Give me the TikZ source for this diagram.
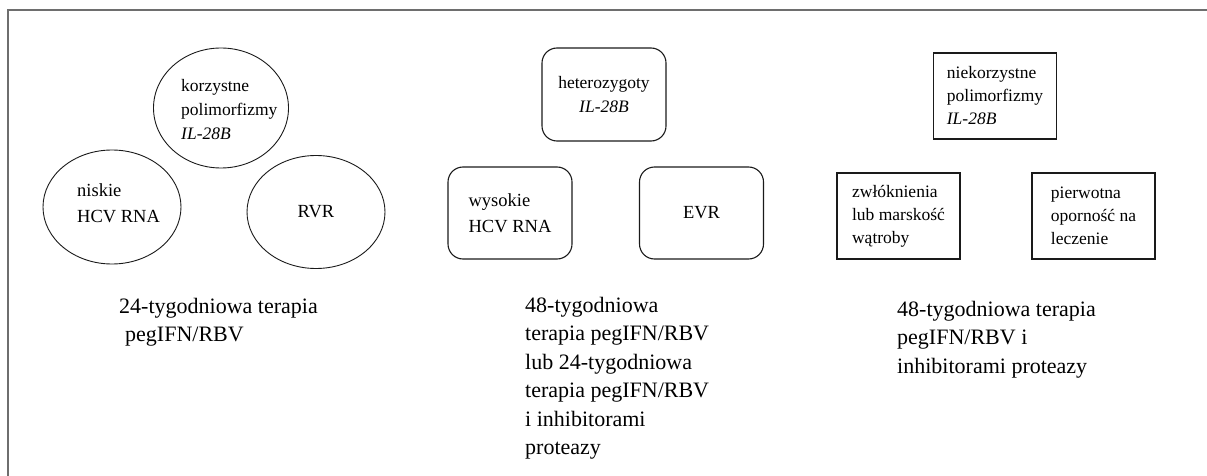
\documentclass[tikz,border=0pt]{standalone}
\usepackage{fontspec}
\setmainfont{Liberation Serif}
\usepackage{tikz}
\usetikzlibrary{shapes.geometric}
\definecolor{framegray}{HTML}{6E6E6E}
\definecolor{inkblack}{HTML}{1A1A1A}

\begin{document}
\begin{tikzpicture}[
    x=1pt, y=-1pt,
    small/.style={font=\fontsize{17.5}{24}\selectfont},
    medium/.style={font=\fontsize{18.5}{26.5}\selectfont},
    oval/.style={ellipse, draw=inkblack, line width=0.9pt, inner sep=0pt},
    ovaltext/.style={anchor=west, align=left, inner sep=0pt},
    roundbox/.style={rectangle, rounded corners=15pt, draw=inkblack, line width=1.1pt,
                     align=left, inner sep=0pt, minimum width=124pt, minimum height=92pt},
    sqbox/.style={rectangle, draw=inkblack, line width=1.5pt, align=left, inner sep=0pt,
                  minimum width=123pt, minimum height=86pt,
                  font=\fontsize{17.5}{23}\selectfont},
    therapy/.style={anchor=north west, align=left, inner sep=0pt,
                    font=\fontsize{22}{28.5}\selectfont}
  ]
    \useasboundingbox (0,0) rectangle (1207,476);
    \draw[framegray, line width=1.6pt] (8,476) -- (8,10) -- (1207,10);

    % korzystne
    \node[oval, minimum width=135pt, minimum height=120pt] (favpoly) at (221,108) {};
    \node[ovaltext, small] (favpolytext) at (181,110)
      {korzystne\\polimorfizmy\\\textit{IL-28B}};
    \node[oval, minimum width=138pt, minimum height=114pt] (lowrna) at (112,207) {};
    \node[ovaltext, medium] (lowrnatext) at (77,203) {niskie\\HCV RNA};
    \node[oval, medium, minimum width=138pt, minimum height=113pt] (rvr) at (316,212) {RVR};
    \node[therapy] (short) at (119,298)
      {24-tygodniowa terapia\\\hspace{6pt}pegIFN/RBV};

    % heterozygoty
    \node[roundbox, small, minimum height=93pt, align=center] (hetero) at (604,94.5)
      {heterozygoty\\\textit{IL-28B}};
    \node[roundbox, medium] (highrna) at (510,213) {wysokie\\HCV RNA};
    \node[roundbox, medium] (evr) at (701.5,213) {EVR};
    \node[therapy] (mixed) at (525,297)
      {48-tygodniowa\\terapia pegIFN/RBV\\lub 24-tygodniowa\\terapia pegIFN/RBV\\i inhibitorami\\proteazy};

    % niekorzystne
    \node[sqbox] (unfavpoly) at (995,96)
      {niekorzystne\\polimorfizmy\\\textit{IL-28B}};
    \node[sqbox] (fibrosis) at (898.5,216) {zwłóknienia\\lub marskość\\wątroby};
    \node[sqbox] (resist) at (1093.5,216) {pierwotna\\oporność na\\leczenie};
    \node[therapy] (long) at (897,301)
      {48-tygodniowa terapia\\pegIFN/RBV i\\inhibitorami proteazy};
\end{tikzpicture}
\end{document}
